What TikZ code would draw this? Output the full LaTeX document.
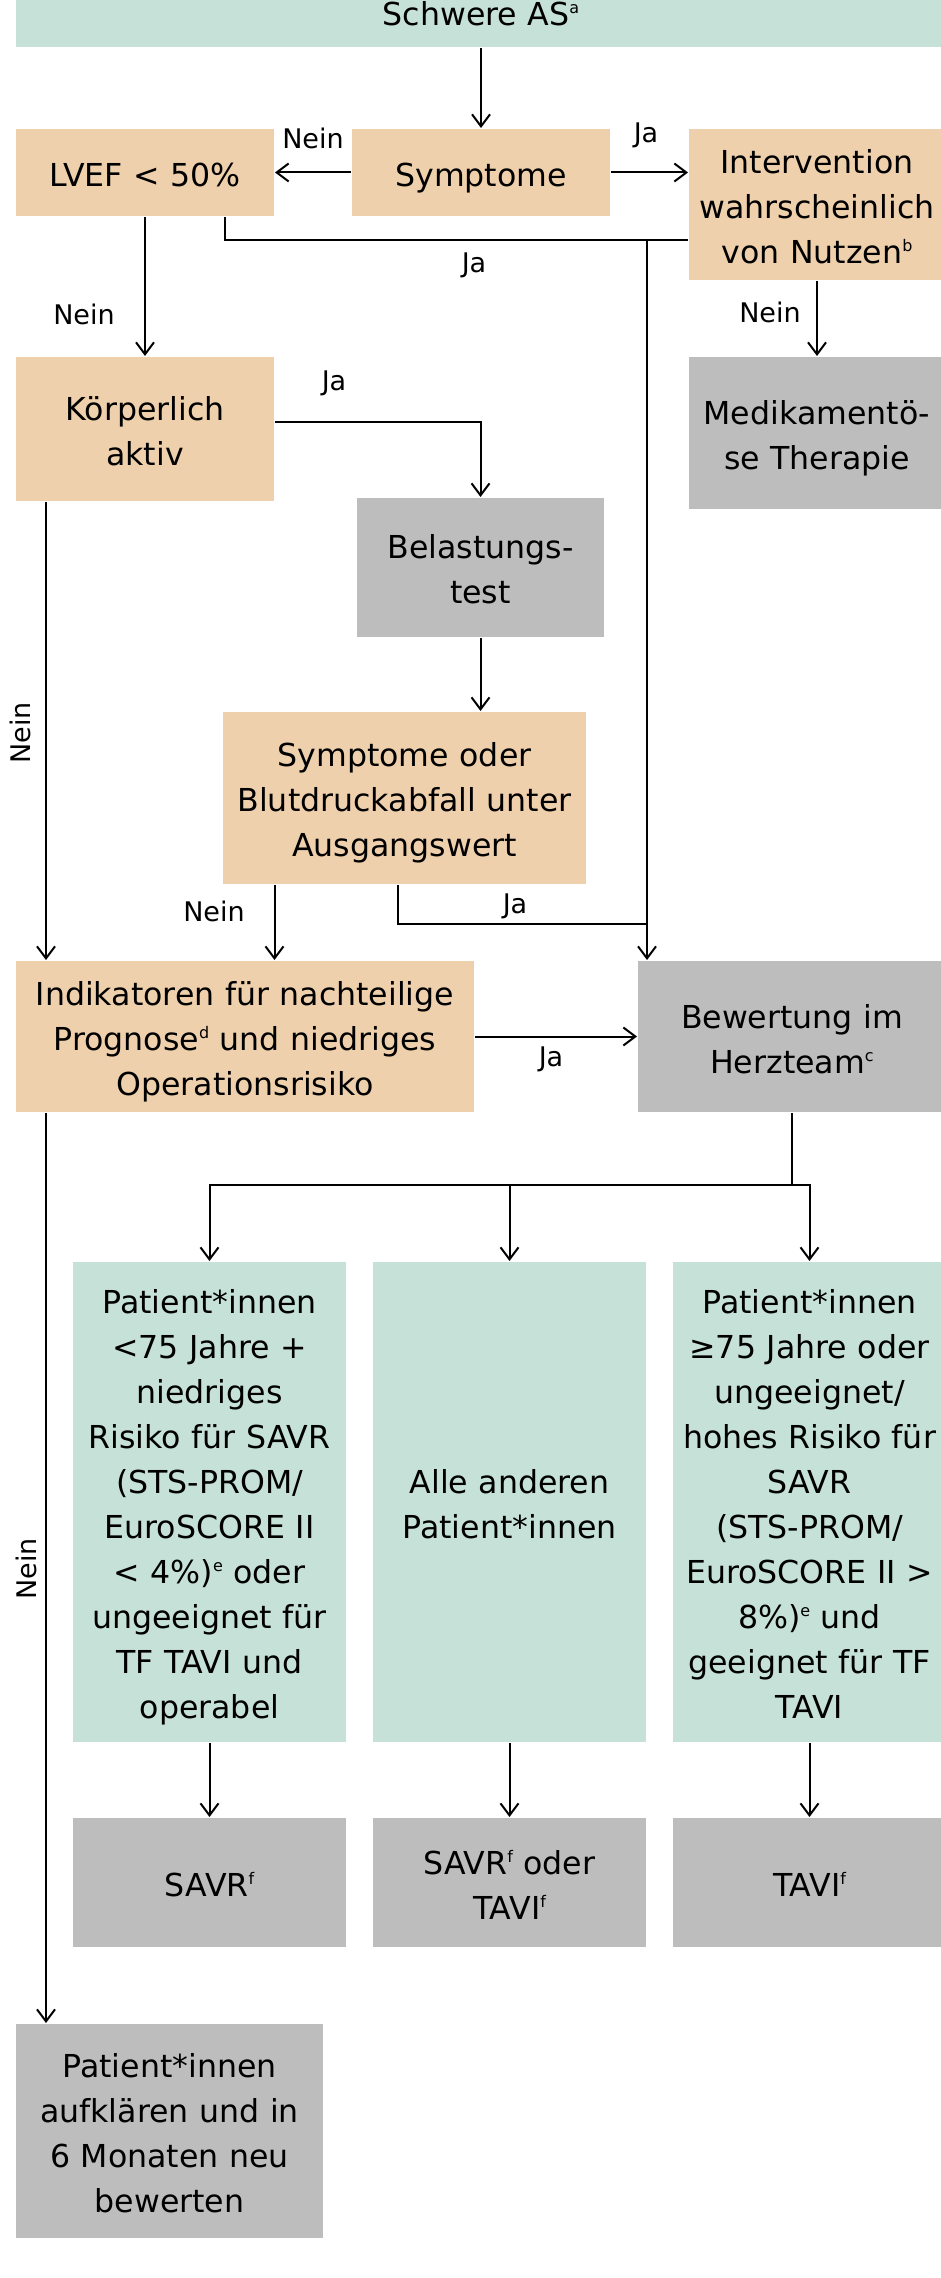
\documentclass[tikz,border=0pt]{standalone}
\usepackage{fontspec}
\setmainfont{DejaVu Sans}
\usepackage{tikz}
\usepackage{xcolor}
\usetikzlibrary{arrows.meta, calc}

\definecolor{boxpeach}{RGB}{239,208,172}
\definecolor{boxmint}{RGB}{198,225,216}
\definecolor{boxgrey}{RGB}{189,189,189}
\newcommand{\hz}[1]{\raisebox{6pt}{\fontsize{8}{8}\selectfont #1}}

\begin{document}
\begin{tikzpicture}[x=0.5pt, y=-0.5pt,
  box/.style={inner sep=0pt, align=center, font=\fontsize{15.8}{22.5}\selectfont,
    execute at begin node={\rule{0pt}{17pt}}, execute at end node={\rule[-3pt]{0pt}{3pt}}},
  sz/.style n args={2}{minimum width=#1, text width=#1, minimum height=#2},
  peach/.style={box, fill=boxpeach},
  mint/.style={box, fill=boxmint},
  grey/.style={box, fill=boxgrey},
  lbl/.style={inner sep=0pt, font=\fontsize{13.5}{16}\selectfont},
  >={Straight Barb[length=6pt, width=9pt]}, line width=1pt]
\useasboundingbox (0,0) rectangle (941,2278);

% Behandlungspfad bei schwerer Aortenstenose
\node[mint, sz={465pt}{35pt}] (top) at (481,12) {Schwere AS\hz{a}};

\node[peach, sz={129pt}{43.5pt}] (lvef) at (145,172.5) {LVEF < 50\%};
\node[peach, sz={129pt}{43.5pt}] (symp) at (481,172.5) {Symptome};
\node[peach, sz={128pt}{75.5pt}] (interv) at (817,204.5) {Intervention\\wahrscheinlich\\von Nutzen\hz{b}};

\node[peach, sz={129pt}{72pt}] (koerp) at (145,429) {Körperlich\\aktiv};
\node[grey, sz={128pt}{76pt}] (medik) at (817,433) {Medikamentö-\\se Therapie};
\node[grey, sz={123.5pt}{69.5pt}] (belast) at (480.5,567.5) {Belastungs-\\test};
\node[peach, sz={181.5pt}{86pt}] (symbd) at (404.5,798) {Symptome oder\\Blutdruckabfall unter\\Ausgangswert};

\node[peach, sz={229pt}{75.5pt}] (indik) at (245,1036.5) {Indikatoren für nachteilige\\Prognose\hz{d} und niedriges\\Operationsrisiko};
\node[grey, sz={154pt}{75.5pt}] (herz) at (792,1036.5) {Bewertung im\\Herzteam\hz{c}};

\node[mint, sz={136.5pt}{240pt}] (pat1) at (209.5,1502) {Patient*innen\\<75 Jahre +\\niedriges\\Risiko für SAVR\\(STS-PROM/\\EuroSCORE II\\< 4\%)\hz{e} oder\\ungeeignet für\\TF TAVI und\\operabel};
\node[mint, sz={136.5pt}{240pt}] (pat2) at (509.5,1502) {Alle anderen\\Patient*innen};
\node[mint, sz={136.5pt}{240pt}] (pat3) at (809.5,1502) {Patient*innen\\≥75 Jahre oder\\ungeeignet/\\hohes Risiko für\\SAVR\\(STS-PROM/\\EuroSCORE II >\\8\%)\hz{e} und\\geeignet für TF\\TAVI};

\node[grey, sz={136.5pt}{64.5pt}] (thr1) at (209.5,1882.5) {SAVR\hz{f}};
\node[grey, sz={136.5pt}{64.5pt}] (thr2) at (509.5,1882.5) {SAVR\hz{f} oder\\TAVI\hz{f}};
\node[grey, sz={136.5pt}{64.5pt}] (thr3) at (809.5,1882.5) {TAVI\hz{f}};

\node[grey, sz={153.5pt}{107pt}] (aufkl) at (169.5,2131) {Patient*innen\\aufklären und in\\6 Monaten neu\\bewerten};

% Knotenpunkte
\coordinate (jLV) at (647,240);
\coordinate (jSB) at (647,924);
\coordinate (jHT) at (792,1185);
\coordinate (xL) at (46,0);

% Beschriftungen
\node[lbl] (nein1) at (313,138) {Nein};
\node[lbl] (ja1) at (646,135) {Ja};
\node[lbl] (ja2) at (474,265) {Ja};
\node[lbl] (nein2) at (84,314) {Nein};
\node[lbl] (nein3) at (770,312) {Nein};
\node[lbl] (ja3) at (334,383) {Ja};
\node[lbl, rotate=90] (nein4) at (20,733) {Nein};
\node[lbl] (nein5) at (214,911) {Nein};
\node[lbl] (ja4) at (515,906) {Ja};
\node[lbl] (ja5) at (551,1059) {Ja};
\node[lbl, rotate=90] (nein6) at (26,1569) {Nein};

\draw[->] (top) -- (symp);
\draw[->] (symp) -- (lvef);
\draw[->] (symp.east) -- (symp.east -| interv.west);
\draw ([xshift=40pt]lvef.south) |- (jLV) -- (interv.west |- jLV);
\draw[->] (jLV) -- (jLV |- herz.north);

\draw[->] (lvef) -- (koerp);
\draw[->] (interv) -- (medik);
\draw[->] ([yshift=3.5pt]koerp.east) -| (belast.north);
\draw[->] (belast) -- (belast.south |- symbd.north);
\draw[->] (koerp.south -| xL) -- (indik.north -| xL);

\draw[->] ([xshift=-65pt]symbd.south) -- ([xshift=-65pt]symbd.south |- indik.north);
\draw ([xshift=-3.25pt]symbd.south) |- (jSB);
\draw[->] (indik) -- (herz);

\draw (herz) -- (jHT);
\draw[->] (jHT) -| (pat1);
\draw[->] (jHT) -| (pat3);
\draw[->] (pat2.north |- jHT) -- (pat2);

\draw[->] (pat1) -- (thr1);
\draw[->] (pat2) -- (thr2);
\draw[->] (pat3) -- (thr3);
\draw[->] (indik.south -| xL) -- (aufkl.north -| xL);
\end{tikzpicture}
\end{document}
